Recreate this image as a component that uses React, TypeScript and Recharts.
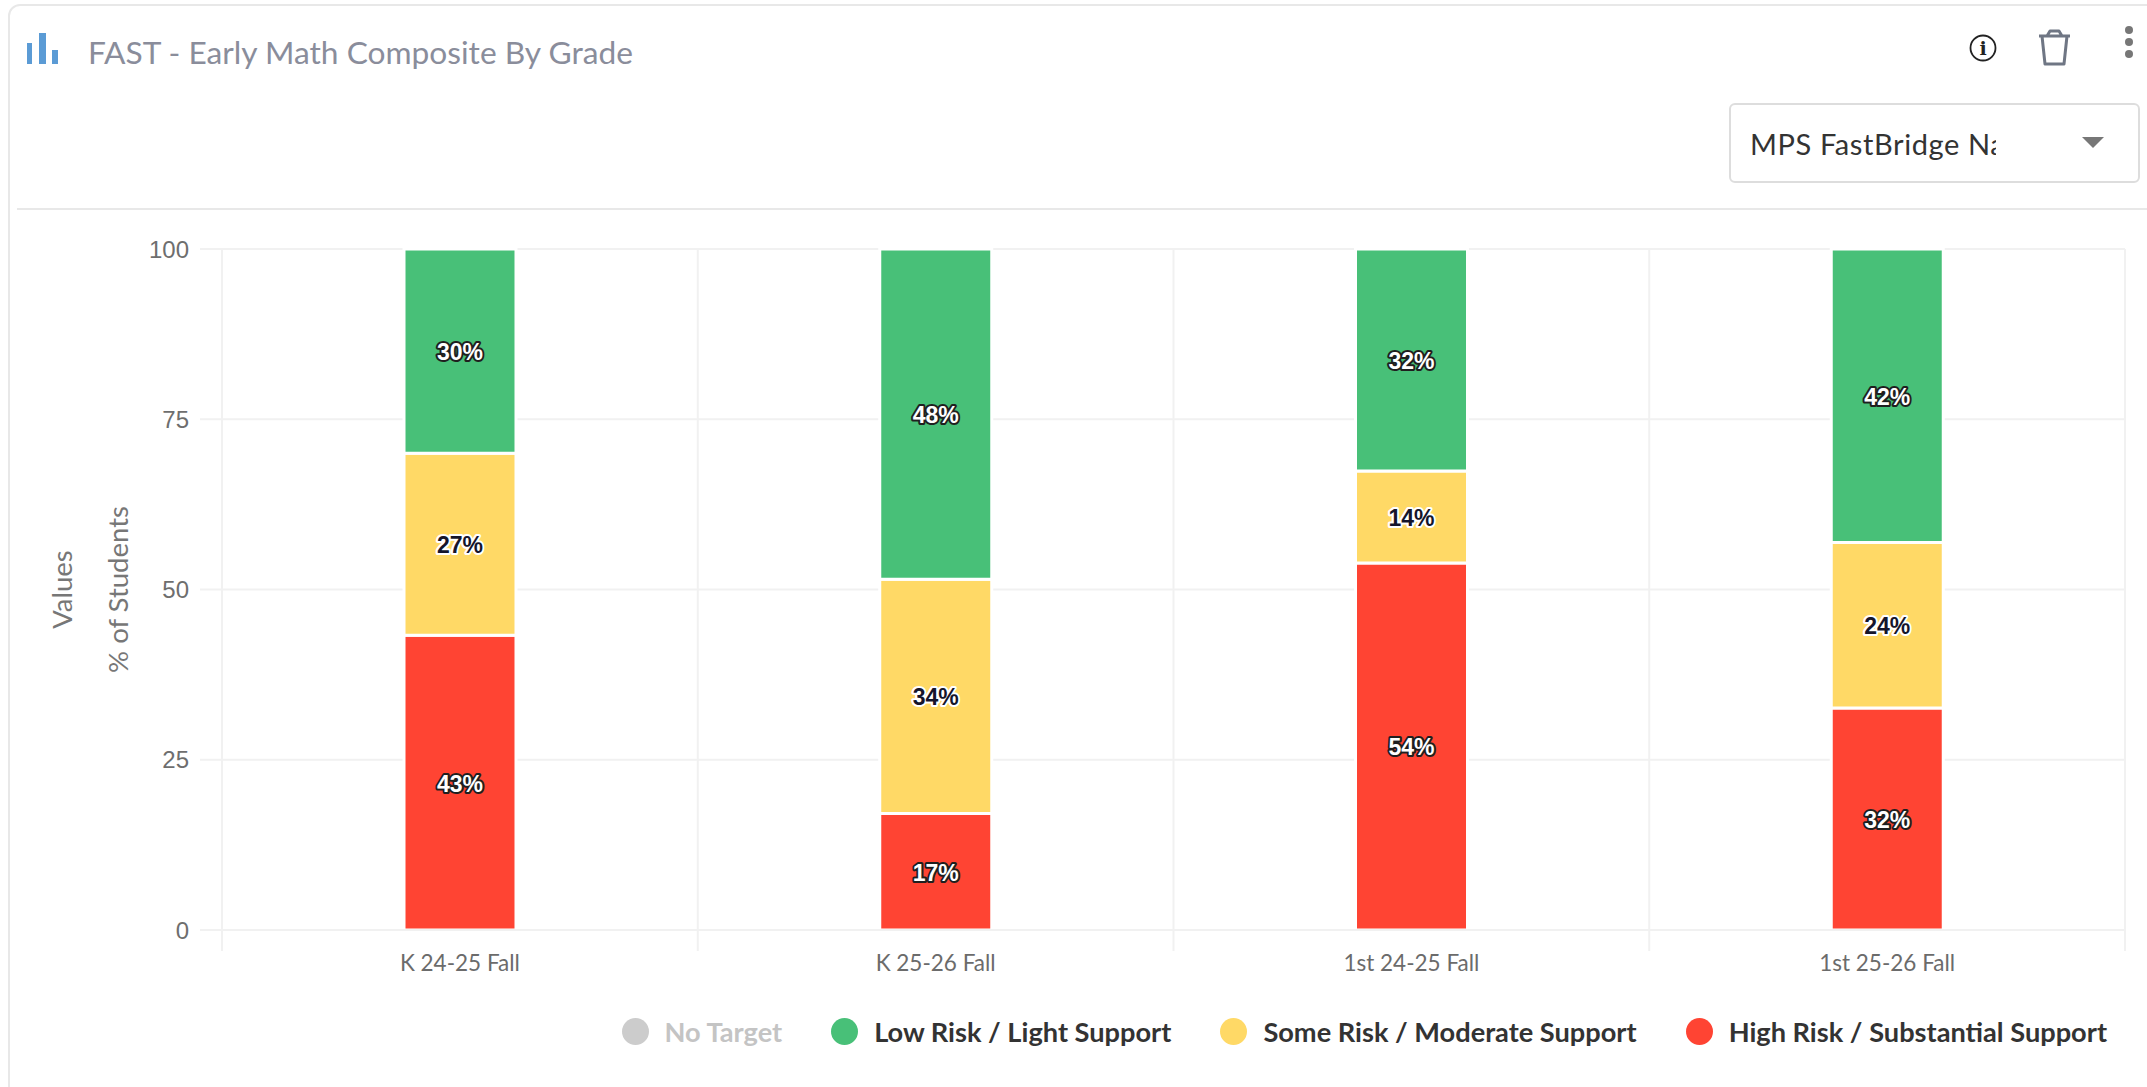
import { Bar, BarChart, CartesianGrid, Label, LabelList, Legend, XAxis, YAxis } from "recharts"

const categories = ["K 24-25 Fall", "K 25-26 Fall", "1st 24-25 Fall", "1st 25-26 Fall"]
const lowRisk = [30, 48.5, 32.6, 43.1]
const someRisk = [26.7, 34.4, 13.5, 24.3]
const highRisk = [43.3, 17.1, 53.9, 32.6]
const lowLabels = ["30%", "48%", "32%", "42%"]
const someLabels = ["27%", "34%", "14%", "24%"]
const highLabels = ["43%", "17%", "54%", "32%"]
const yTicks = [0, 25, 50, 75, 100]
const legendItems = [
  { name: "No Target", color: "#cccccc", text: "#c4c4c4" },
  { name: "Low Risk / Light Support", color: "#48c078", text: "#333333" },
  { name: "Some Risk / Moderate Support", color: "#ffd966", text: "#333333" },
  { name: "High Risk / Substantial Support", color: "#ff4433", text: "#333333" },
]

const data = categories.map((name, i) => ({
  name,
  low: lowRisk[i],
  some: someRisk[i],
  high: highRisk[i],
  lowLabel: lowLabels[i],
  someLabel: someLabels[i],
  highLabel: highLabels[i],
}))

const GRID = "#f1f1f1"
const PLOT_LEFT = 222
const PLOT_RIGHT = 2125
const PLOT_TOP = 249
const PLOT_BOTTOM = 930
const BAND = (PLOT_RIGHT - PLOT_LEFT) / categories.length

function barLabel(fill: string, outline: string) {
  return (props: any) => (
    <text
      x={props.x + props.width / 2}
      y={props.y + props.height / 2 + 1}
      textAnchor="middle"
      dominantBaseline="central"
      fontFamily="Liberation Sans"
      fontWeight={700}
      fontSize={23}
      fill={fill}
      stroke={outline}
      strokeWidth={4}
      strokeLinejoin="round"
      paintOrder="stroke"
    >
      {props.value}
    </text>
  )
}

function CategoryTick(props: any) {
  const { x, index, payload } = props
  const left = x - BAND / 2
  return (
    <g>
      <line x1={left} x2={left} y1={PLOT_BOTTOM} y2={PLOT_BOTTOM + 21} stroke={GRID} strokeWidth={2} />
      {index === categories.length - 1 && (
        <line x1={x + BAND / 2} x2={x + BAND / 2} y1={PLOT_BOTTOM} y2={PLOT_BOTTOM + 21} stroke={GRID} strokeWidth={2} />
      )}
      <text x={x} y={PLOT_BOTTOM + 32} textAnchor="middle" dominantBaseline="central" fontFamily="Lato" fontSize={22.5} fill="#6b6b6b">
        {payload.value}
      </text>
    </g>
  )
}

function RiskLegend() {
  return (
    <div style={{ display: "flex", justifyContent: "flex-end", alignItems: "center", height: 40, gap: 49 }}>
      {legendItems.map((item) => (
        <div key={item.name} style={{ display: "flex", alignItems: "center", gap: 16 }}>
          <span style={{ width: 27, height: 27, borderRadius: "50%", background: item.color }} />
          <span style={{ fontFamily: "Lato", fontWeight: 700, fontSize: 27.2, color: item.text, whiteSpace: "nowrap" }}>{item.name}</span>
        </div>
      ))}
    </div>
  )
}

function Header() {
  return (
    <>
      <div style={{ position: "absolute", left: 8, top: 4, width: 2300, height: 1200, border: "2px solid #e8e8e8", borderRadius: 12 }} />
      <div style={{ position: "absolute", left: 17, right: 0, top: 208, height: 2, background: "#e8e8e8" }} />
      <svg style={{ position: "absolute", left: 0, top: 0 }} width={2147} height={210}>
        <rect x={27} y={43} width={5} height={21} fill="#5b9bd5" />
        <rect x={39} y={33} width={7} height={31} fill="#5b9bd5" />
        <rect x={52} y={50} width={6} height={14} fill="#5b9bd5" />
        <circle cx={1983} cy={48} r={12.5} fill="none" stroke="#222" strokeWidth={1.8} />
        <text x={1983} y={55} textAnchor="middle" fontFamily="DejaVu Serif" fontWeight={700} fontSize={19} fill="#222">i</text>
        <path d="M2039 36 H2070 M2047 36 L2050 31 H2059 L2062 36 M2042 36 L2045 64 H2064 L2067 36" fill="none" stroke="#6f7684" strokeWidth={3} strokeLinejoin="round" />
        <circle cx={2129} cy={30} r={4} fill="#777" />
        <circle cx={2129} cy={42} r={4} fill="#777" />
        <circle cx={2129} cy={54} r={4} fill="#777" />
        <path d="M2082 137 H2104 L2093 148 Z" fill="#777" />
      </svg>
      <div style={{ position: "absolute", left: 88, top: 31, fontFamily: "Lato", fontSize: 31.7, lineHeight: "42px", color: "#8a8d9b", whiteSpace: "nowrap" }}>
        FAST - Early Math Composite By Grade
      </div>
      <div style={{ position: "absolute", left: 1729, top: 103, width: 407, height: 76, border: "2px solid #dddddd", borderRadius: 6 }} />
      <div style={{ position: "absolute", left: 1750, top: 123, width: 246, overflow: "hidden", fontFamily: "Lato", fontSize: 29, letterSpacing: 0.6, lineHeight: "42px", color: "#333", whiteSpace: "nowrap" }}>
        MPS FastBridge Na
      </div>
    </>
  )
}

export default function App() {
  return (
    <div style={{ position: "absolute", left: 0, top: 0, width: 2147, height: 1087, overflow: "hidden", background: "#fff" }}>
      <Header />
      <div style={{ position: "absolute", left: 0, top: 0 }}>
        <BarChart
          width={2147}
          height={1087}
          data={data}
          barSize={112}
          margin={{ top: PLOT_TOP, right: 2147 - PLOT_RIGHT, left: 0, bottom: 1087 - PLOT_BOTTOM - 80 }}
        >
          <CartesianGrid
            stroke={GRID}
            strokeWidth={2}
            verticalCoordinatesGenerator={({ offset }: any) =>
              Array.from({ length: categories.length + 1 }, (_, i) => offset.left + (offset.width * i) / categories.length)
            }
          />
          <XAxis dataKey="name" height={40} axisLine={{ stroke: GRID, strokeWidth: 2 }} tickLine={false} interval={0} tick={<CategoryTick />} />
          <YAxis
            width={PLOT_LEFT}
            domain={[0, 100]}
            ticks={yTicks}
            axisLine={false}
            tickSize={22}
            tickMargin={11}
            tickLine={{ stroke: GRID, strokeWidth: 2 }}
            tick={{ fontFamily: "Liberation Sans", fontSize: 24, fill: "#6e6e6e" }}
          >
            <Label value="Values" angle={-90} position="insideLeft" offset={62} style={{ textAnchor: "middle", fontFamily: "Lato", fontSize: 27.5, fill: "#777777" }} />
            <Label value="% of Students" angle={-90} position="insideLeft" offset={118} style={{ textAnchor: "middle", fontFamily: "Lato", fontSize: 27.5, fill: "#777777" }} />
          </YAxis>
          <Legend content={<RiskLegend />} verticalAlign="bottom" wrapperStyle={{ left: 0, right: 40, width: 2107, bottom: 36, height: 40 }} />
          <Bar dataKey="high" stackId="risk" fill="#ff4433" stroke="#fff" strokeWidth={3} isAnimationActive={false}>
            <LabelList dataKey="highLabel" content={barLabel("#ffffff", "#1f1f1f")} />
          </Bar>
          <Bar dataKey="some" stackId="risk" fill="#ffd966" stroke="#fff" strokeWidth={3} isAnimationActive={false}>
            <LabelList dataKey="someLabel" content={barLabel("#15152b", "#ffffff")} />
          </Bar>
          <Bar dataKey="low" stackId="risk" fill="#48c078" stroke="#fff" strokeWidth={3} isAnimationActive={false}>
            <LabelList dataKey="lowLabel" content={barLabel("#ffffff", "#1f1f1f")} />
          </Bar>
        </BarChart>
      </div>
    </div>
  )
}
